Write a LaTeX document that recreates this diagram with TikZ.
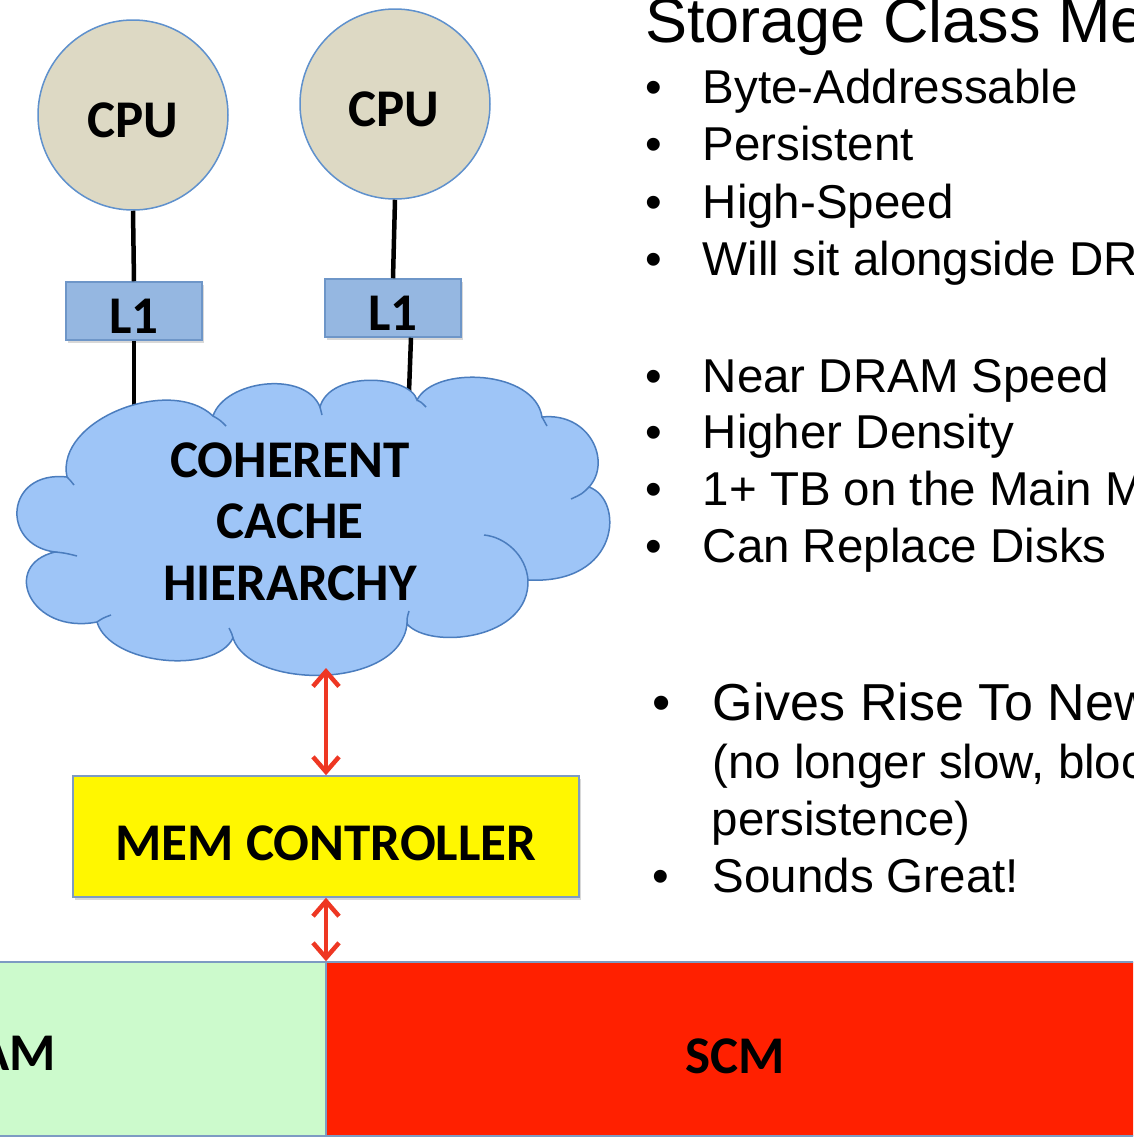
\documentclass[tikz,border=0pt]{standalone}
\usepackage{fontspec}
\setmainfont{Liberation Sans}
\newfontfamily\lblfont{Carlito}
\usetikzlibrary{arrows.meta,shadows}

\definecolor{cpufill}{RGB}{221,217,196}
\definecolor{cpuedge}{RGB}{95,145,205}
\definecolor{lonefill}{RGB}{149,183,225}
\definecolor{loneedge}{RGB}{110,150,200}
\definecolor{cloudfill}{RGB}{158,197,247}
\definecolor{cloudedge}{RGB}{75,125,190}
\definecolor{memfill}{RGB}{255,247,0}
\definecolor{boxedge}{RGB}{125,155,195}
\definecolor{dramfill}{RGB}{204,250,204}
\definecolor{scmfill}{RGB}{255,32,0}
\definecolor{busred}{RGB}{238,55,35}

\begin{document}
\begin{tikzpicture}[x=1pt,y=-1pt,
  lbl/.style={font=\lblfont\bfseries\fontsize{53}{62}\selectfont, inner sep=0pt, anchor=base},
  body/.style={font=\fontsize{47.5}{57}\selectfont, anchor=base west, inner sep=0pt},
  lead/.style={font=\fontsize{52}{60}\selectfont, anchor=base west, inner sep=0pt},
  cpu/.style={circle, draw=cpuedge, line width=1.5pt, fill=cpufill, minimum size=190pt, inner sep=0pt},
  cachebox/.style={rectangle, draw=loneedge, line width=1.5pt, fill=lonefill,
    minimum width=136pt, minimum height=58pt, inner sep=0pt,
    drop shadow={shadow xshift=1.5pt, shadow yshift=-2.5pt, opacity=.3}},
  memrect/.style={rectangle, draw=boxedge, line width=1.5pt, inner sep=0pt},
  wire/.style={line width=4.5pt, draw=black},
  bus/.style={line width=4.5pt, draw=busred, >={Straight Barb[length=15pt,width=26pt]}, <->},
  puff/.style={draw=cloudedge, line width=1.5pt},
]
\useasboundingbox (0,0) rectangle (1133,1138);
\fill[white] (0,0) rectangle (1133,1138);
\clip (0,0) rectangle (1133,1138);

% processors and their first-level caches
\node[cpu] (cpuA) at (133,115) {};
\node[cpu] (cpuB) at (395,104) {};
\node[lbl] (cpuAtxt) at (133,137) {CPU};
\node[lbl] (cpuBtxt) at (394,126) {CPU};

\node[cachebox] (lA) at (134,311) {};
\node[cachebox] (lB) at (393,308) {};
\node[lbl] (lAtxt) at (134,333) {L1};
\node[lbl] (lBtxt) at (393,330) {L1};

\draw[wire] (cpuA.south) -- (lA.north);
\draw[wire] (cpuB.south) -- (lB.north);

% where the L1 links meet the cloud
\coordinate (cloudA) at (134,412);
\coordinate (cloudB) at (409,392);
\draw[wire] (lA.south) -- (cloudA);
\draw[wire] ([xshift=18pt]lB.south) -- (cloudB);

% coherent cache hierarchy cloud
\path[puff, fill=cloudfill] (67,477)
  .. controls (55,420) and (170,375) .. (213,416)
  .. controls (225,380) and (305,370) .. (320,407)
  .. controls (330,370) and (410,375) .. (417,400)
  .. controls (435,365) and (535,370) .. (542,417)
  .. controls (590,412) and (612,462) .. (589,487)
  .. controls (625,500) and (620,585) .. (528,580)
  .. controls (530,640) and (430,650) .. (407,624)
  .. controls (400,690) and (250,690) .. (233,638)
  .. controls (215,675) and (110,665) .. (97,622)
  .. controls (30,635) and (0,565) .. (55,552)
  .. controls (0,545) and (5,470) .. (67,477) -- cycle;
% inner puff seams
\draw[puff] (213,416) .. controls (220,420) .. (226,426);
\draw[puff] (320,407) .. controls (321,411) .. (322,415);
\draw[puff] (417,400) .. controls (421,402) .. (426,407);
\draw[puff] (542,417) .. controls (544,421) .. (547,426);
\draw[puff] (589,487) .. controls (582,494) .. (571,499);
\draw[puff] (528,580) .. controls (526,555) and (505,537) .. (484,535);
\draw[puff] (407,624) .. controls (407,618) .. (409,611);
\draw[puff] (233,638) .. controls (232,634) .. (229,628);
\draw[puff] (97,622) .. controls (103,618) .. (111,615);
\draw[puff] (55,552) .. controls (65,553) .. (77,556);
\draw[puff] (67,477) .. controls (70,480) .. (74,485);

\node[lbl] (cacheA) at (290,477) {COHERENT};
\node[lbl] (cacheB) at (290,538) {CACHE};
\node[lbl] (cacheC) at (290,600) {HIERARCHY};
\coordinate (cloudBot) at (326,668);

% memory controller
\node[memrect, fill=memfill, minimum width=506pt, minimum height=121pt,
  drop shadow={shadow xshift=1.5pt, shadow yshift=-3pt, opacity=.3}] (mem) at (326,836.5) {};
\node[lbl] (memtxt) at (326,860) {MEM CONTROLLER};

% main memory: DRAM beside SCM
\node[memrect, fill=dramfill, minimum width=576pt, minimum height=174pt] (dram) at (38,1049) {};
\node[memrect, fill=scmfill, minimum width=1074pt, minimum height=174pt] (scm) at (863,1049) {};
\node[lbl, anchor=base east] (dramtxt) at (56,1070) {AM};
\node[lbl] (scmtxt) at (735,1073) {SCM};

\draw[bus] (cloudBot) -- (mem.north);
\draw[bus] (mem.south) -- (mem.south |- scm.north);

% bullet list
\node[anchor=base west, inner sep=0pt, font=\fontsize{63}{72}\selectfont] (title) at (645,42) {Storage Class Me};
\foreach \y/\t [count=\i] in {103/Byte-Addressable, 160/Persistent, 218/High-Speed,
    275/Will sit alongside DR, 392/Near DRAM Speed, 448/Higher Density,
    505/1+ TB on the Main M, 562/Can Replace Disks} {
  \node[body] (dot\i) at (645,\y) {•};
  \node[body] (item\i) at (702.5,\y) {\t};
}
\node[lead] (dotG) at (652,720) {•};
\node[lead] (itemG) at (712.5,720) {Gives Rise To New};
\node[body] (itemGa) at (712,778) {(no longer slow, bloc};
\node[body] (itemGb) at (711.5,835) {persistence)};
\node[body] (dotS) at (652,892) {•};
\node[body] (itemS) at (712.5,892) {Sounds Great!};
\end{tikzpicture}
\end{document}
